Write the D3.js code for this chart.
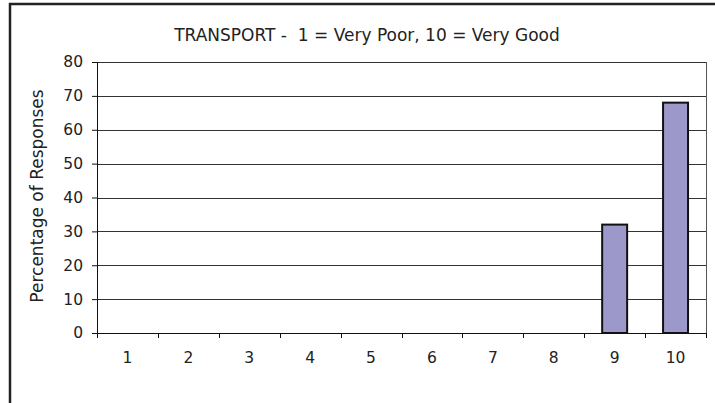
<!DOCTYPE html>
<html>
<head>
<meta charset="utf-8">
<style>
  body { margin: 0; background: #fff; }
  svg text { font-family: "DejaVu Sans", sans-serif; fill: #222; }
</style>
</head>
<body>
<svg width="715" height="403"></svg>
<script src="https://cdnjs.cloudflare.com/ajax/libs/d3/7.8.5/d3.min.js"></script>
<script>
// chart data
var categories = ["1", "2", "3", "4", "5", "6", "7", "8", "9", "10"];
var values = [0, 0, 0, 0, 0, 0, 0, 0, 32, 68];
var yTicks = [0, 10, 20, 30, 40, 50, 60, 70, 80];
var title = "TRANSPORT -  1 = Very Poor, 10 = Very Good";
var yTitle = "Percentage of Responses";

var svg = d3.select("svg"),
    margin = {top: 62, right: 9, bottom: 70, left: 97},
    width = 715 - margin.left - margin.right,
    height = 403 - margin.top - margin.bottom;

// outer frame (runs off the right and bottom edges)
svg.append("rect")
    .attr("x", 10).attr("y", 4)
    .attr("width", 720).attr("height", 420)
    .attr("fill", "none")
    .attr("stroke", "#222")
    .attr("stroke-width", 2.5);

var g = svg.append("g").attr("transform", "translate(" + margin.left + "," + margin.top + ")");

var x = d3.scaleBand().domain(categories).range([0, width]).paddingInner(0.59).paddingOuter(0.295);
var xEdge = d3.scaleBand().domain(categories).range([0, width]);
var y = d3.scaleLinear().domain([0, 80]).range([height, 0]);

// gridlines
g.append("g")
  .selectAll("line")
  .data(yTicks.slice(1))
  .enter().append("line")
    .attr("x1", 0).attr("x2", width)
    .attr("y1", function(d) { return Math.round(y(d)) + 0.5; })
    .attr("y2", function(d) { return Math.round(y(d)) + 0.5; })
    .attr("stroke", "#333")
    .attr("stroke-width", 1);

// right border of plot area
g.append("line")
    .attr("x1", width + 0.5).attr("x2", width + 0.5)
    .attr("y1", 0).attr("y2", height)
    .attr("stroke", "#555");

// bars
g.append("g")
  .selectAll("rect")
  .data(values)
  .enter().append("rect")
    .attr("x", function(d, i) { return x(categories[i]); })
    .attr("y", function(d) { return y(d); })
    .attr("width", x.bandwidth())
    .attr("height", function(d) { return height - y(d); })
    .attr("fill", "#9c98ca")
    .attr("stroke", "#111")
    .attr("stroke-width", function(d) { return d > 0 ? 2 : 0; });

// y axis
var yAxis = g.append("g")
    .call(d3.axisLeft(y).tickValues(yTicks).tickSize(5).tickPadding(9));
yAxis.select(".domain").attr("stroke", "#111");
yAxis.selectAll(".tick line").attr("stroke", "#111");
yAxis.selectAll(".tick text").style("font-size", "15.5px").attr("fill", "#333");

// x axis: ticks at category boundaries, labels centred
var xAxis = g.append("g")
    .attr("transform", "translate(0," + height + ")");
xAxis.append("line")
    .attr("x1", 0).attr("x2", width)
    .attr("y1", 0.5).attr("y2", 0.5)
    .attr("stroke", "#111");
xAxis.selectAll(".xt")
  .data(categories.concat(["end"]))
  .enter().append("line")
    .attr("class", "xt")
    .attr("x1", function(d, i) { return Math.round(i * xEdge.step()) + 0.5; })
    .attr("x2", function(d, i) { return Math.round(i * xEdge.step()) + 0.5; })
    .attr("y1", 0).attr("y2", 5)
    .attr("stroke", "#111");
xAxis.selectAll(".xl")
  .data(categories)
  .enter().append("text")
    .attr("class", "xl")
    .attr("x", function(d) { return xEdge(d) + xEdge.bandwidth() / 2; })
    .attr("y", 30)
    .attr("text-anchor", "middle")
    .style("font-size", "15.5px")
    .attr("fill", "#333")
    .text(function(d) { return d; });

// titles
svg.append("text")
    .attr("x", 367).attr("y", 41)
    .attr("text-anchor", "middle")
    .style("font-size", "17px")
    .style("white-space", "pre")
    .text(title);

svg.append("text")
    .attr("transform", "translate(43,196) rotate(-90)")
    .attr("text-anchor", "middle")
    .style("font-size", "17px")
    .text(yTitle);
</script>
</body>
</html>
